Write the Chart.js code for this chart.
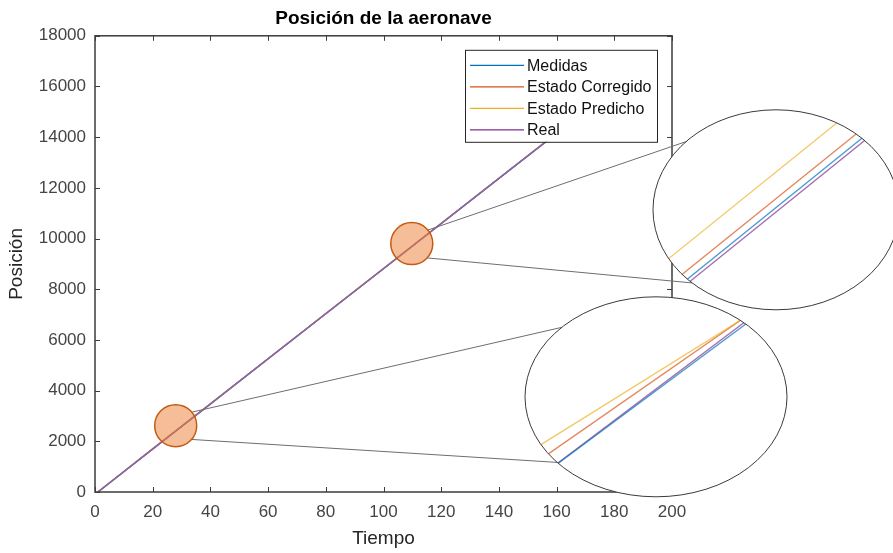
<!DOCTYPE html>
<html>
<head>
<meta charset="utf-8">
<script src="https://cdn.jsdelivr.net/npm/chart.js@4"></script>
<style>
  html, body { margin: 0; padding: 0; background: #fff; }
  #wrap { width: 893px; height: 553px; }
</style>
</head>
<body>
<div id="wrap"><canvas id="chart"></canvas></div>
<script>
// Main series
const tiempo    = [1, 20, 40, 60, 80, 100, 120, 140, 160, 170];
const medidas   = [0, 1695, 3468, 5256, 7035, 8808, 10596, 12374, 14149, 15045];
const corregido = [0, 1703, 3480, 5259, 7038, 8817, 10596, 12375, 14155, 15044];
const predicho  = [0, 1716, 3489, 5266, 7045, 8824, 10603, 12382, 14161, 15050];
const real      = [0, 1691, 3471, 5251, 7031, 8811, 10591, 12371, 14151, 15041];

const xTicks = [0, 20, 40, 60, 80, 100, 120, 140, 160, 180, 200];
const yTicks = [0, 2000, 4000, 6000, 8000, 10000, 12000, 14000, 16000, 18000];

const seriesNames = ['Medidas', 'Estado Corregido', 'Estado Predicho', 'Real'];
const seriesColors = ['#0072BD', '#D95319', '#EDB120', '#7E2F8E'];

// Zoomed views
const zoomA_tiempo    = [108.5, 111.5];
const zoomA_medidas   = [9571, 9839];
const zoomA_corregido = [9579, 9847];
const zoomA_predicho  = [9603, 9871];
const zoomA_real      = [9567, 9835];

const zoomB_tiempo    = [27, 29];
const zoomB_medidas   = [2314, 2489];
const zoomB_corregido = [2330, 2494];
const zoomB_predicho  = [2344, 2491];
const zoomB_real      = [2314, 2492];

// Centres of the marked circles (data units)
const zoomA_centro = [109.8, 9802];
const zoomB_centro = [27.97, 2617];

const toPoints = (xs, ys) => xs.map((x, i) => ({ x: x, y: ys[i] }));

// inset layout: data window -> ellipse on screen
const insets = [
  {
    centro: zoomA_centro, win: { cx: 110, cy: 9703, hx: 1, hy: 90 },
    ell: { dx: 104, dy: 174, rx: 123, ry: 100 },
    conn: [[-40, -137], [43, 133]],
    series: [zoomA_real, zoomA_medidas, zoomA_corregido, zoomA_predicho],
    colors: ['#7E2F8E', '#0072BD', '#D95319', '#EDB120'],
    t: zoomA_tiempo
  },
  {
    centro: zoomB_centro, win: { cx: 28, cy: 2396, hx: 1, hy: 90 },
    ell: { dx: -16, dy: 361, rx: 131, ry: 100 },
    conn: [[-40, -136], [41, 139]],
    series: [zoomB_real, zoomB_medidas, zoomB_corregido, zoomB_predicho],
    colors: ['#7E2F8E', '#0072BD', '#D95319', '#EDB120'],
    t: zoomB_tiempo
  }
];

Chart.defaults.font.family = "'Liberation Sans', Arial, sans-serif";

const rad = d => d * Math.PI / 180;

const decoPlugin = {
  id: 'deco',
  afterDraw(chart) {
    const { ctx, chartArea: a, scales: { x, y } } = chart;
    ctx.save();

    // axes box with inward ticks
    ctx.strokeStyle = '#3c3c3c';
    ctx.lineWidth = 1.5;
    ctx.strokeRect(a.left, a.top, a.right - a.left, a.bottom - a.top);
    ctx.lineWidth = 1;
    ctx.beginPath();
    xTicks.forEach(v => {
      const px = Math.round(x.getPixelForValue(v)) + 0.5;
      ctx.moveTo(px, a.bottom); ctx.lineTo(px, a.bottom - 5);
      ctx.moveTo(px, a.top); ctx.lineTo(px, a.top + 5);
    });
    yTicks.forEach(v => {
      const py = Math.round(y.getPixelForValue(v)) + 0.5;
      ctx.moveTo(a.left, py); ctx.lineTo(a.left + 5, py);
      ctx.moveTo(a.right, py); ctx.lineTo(a.right - 5, py);
    });
    ctx.stroke();

    // legend
    const lw = 192, lh = 92;
    const lx = a.right - 15 - lw, ly = a.top + 14;
    ctx.fillStyle = '#fff';
    ctx.fillRect(lx, ly, lw, lh);
    ctx.strokeStyle = '#262626';
    ctx.lineWidth = 1;
    ctx.strokeRect(lx + 0.5, ly + 0.5, lw, lh);
    ctx.font = "16px 'Liberation Sans', Arial, sans-serif";
    ctx.textBaseline = 'middle';
    ctx.textAlign = 'left';
    seriesNames.forEach((name, i) => {
      const yy = ly + 15.5 + i * 21.5;
      ctx.strokeStyle = seriesColors[i];
      ctx.lineWidth = 1.2;
      ctx.beginPath();
      ctx.moveTo(lx + 5, yy); ctx.lineTo(lx + 59, yy);
      ctx.stroke();
      ctx.fillStyle = '#111';
      ctx.fillText(name, lx + 62, yy + 1);
    });

    // zoom circles, connectors, insets
    insets.forEach(ins => {
      const cx = x.getPixelForValue(ins.centro[0]);
      const cy = y.getPixelForValue(ins.centro[1]);
      const r = 21;
      const ex = a.left + 577 + ins.ell.dx;
      const ey = a.top + ins.ell.dy;
      const e = { x: ex, y: ey, rx: ins.ell.rx, ry: ins.ell.ry };

      // connectors
      ctx.strokeStyle = '#6e6e6e';
      ctx.lineWidth = 1;
      ins.conn.forEach(([ca, ea]) => {
        ctx.beginPath();
        ctx.moveTo(cx + r * Math.cos(rad(ca)), cy + r * Math.sin(rad(ca)));
        ctx.lineTo(e.x + e.rx * Math.cos(rad(ea)), e.y + e.ry * Math.sin(rad(ea)));
        ctx.stroke();
      });

      // marked circle
      ctx.beginPath();
      ctx.arc(cx, cy, r, 0, Math.PI * 2);
      ctx.fillStyle = 'rgba(237,125,49,0.5)';
      ctx.fill();
      ctx.strokeStyle = '#C55A11';
      ctx.lineWidth = 1.5;
      ctx.stroke();

      // magnified ellipse
      ctx.beginPath();
      ctx.ellipse(e.x, e.y, e.rx, e.ry, 0, 0, Math.PI * 2);
      ctx.fillStyle = '#fff';
      ctx.fill();
      ctx.save();
      ctx.clip();
      const w = ins.win;
      const mapX = t => e.x + (t - w.cx) / w.hx * e.rx;
      const mapY = v => e.y - (v - w.cy) / w.hy * e.ry;
      ins.series.forEach((vals, k) => {
        ctx.strokeStyle = ins.colors[k];
        ctx.globalAlpha = 0.7;
        ctx.lineWidth = 1.3;
        ctx.beginPath();
        ins.t.forEach((t, j) => {
          const px = mapX(t), py = mapY(vals[j]);
          if (j === 0) ctx.moveTo(px, py); else ctx.lineTo(px, py);
        });
        ctx.stroke();
      });
      ctx.restore();
      ctx.beginPath();
      ctx.ellipse(e.x, e.y, e.rx, e.ry, 0, 0, Math.PI * 2);
      ctx.strokeStyle = '#3a3a3a';
      ctx.lineWidth = 1;
      ctx.stroke();
    });

    ctx.restore();
  }
};

const mainData = [medidas, corregido, predicho, real];
const mainColors = ['#3a8ac4', '#dd7a50', '#eec05a', '#9262a2'];

new Chart(document.getElementById('chart'), {
  type: 'line',
  data: {
    datasets: mainData.map((vals, i) => ({
      label: seriesNames[i],
      data: toPoints(tiempo, vals),
      borderColor: mainColors[i],
      borderWidth: 1.4,
      pointRadius: 0,
      tension: 0,
      order: i === 3 ? 0 : 1
    }))
  },
  options: {
    responsive: true,
    maintainAspectRatio: false,
    animation: false,
    events: [],
    layout: { padding: { top: 0, right: 221, bottom: 0, left: 0 } },
    plugins: {
      legend: { display: false },
      tooltip: { enabled: false },
      title: {
        display: true,
        text: 'Posición de la aeronave',
        fullSize: false,
        color: '#000',
        font: { size: 19, weight: 'bold' },
        padding: { top: 7, bottom: 6 }
      }
    },
    scales: {
      x: {
        type: 'linear',
        min: 0, max: 200,
        afterBuildTicks: s => { s.ticks = xTicks.map(v => ({ value: v })); },
        afterFit: s => { s.height = 61; },
        grid: { display: false, drawTicks: false },
        border: { display: false },
        ticks: { color: '#454545', font: { size: 17 }, padding: 10, maxRotation: 0, callback: v => String(v) },
        title: { display: true, text: 'Tiempo', color: '#262626', font: { size: 19 }, padding: { top: 0, bottom: 3 } }
      },
      y: {
        type: 'linear',
        min: 0, max: 18000,
        afterBuildTicks: s => { s.ticks = yTicks.map(v => ({ value: v })); },
        afterFit: s => { s.width = 95; },
        grid: { display: false, drawTicks: false },
        border: { display: false },
        ticks: { color: '#454545', font: { size: 17 }, padding: 9, callback: v => String(v) },
        title: { display: true, text: 'Posición', color: '#262626', font: { size: 19 }, padding: { top: 5, bottom: 0 } }
      }
    }
  },
  plugins: [decoPlugin]
});
</script>
</body>
</html>
